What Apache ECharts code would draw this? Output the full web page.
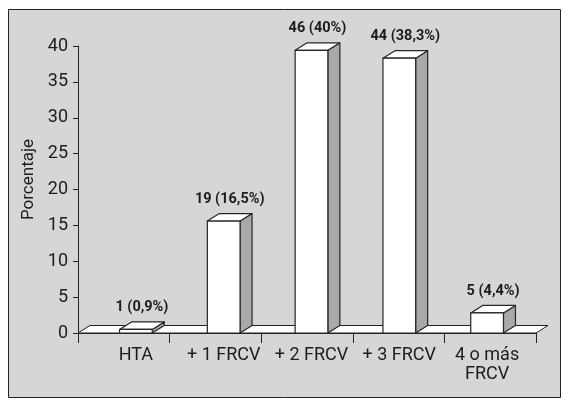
<!DOCTYPE html>
<html>
<head>
<meta charset="utf-8">
<script src="https://cdn.jsdelivr.net/npm/echarts@6/dist/echarts.min.js"></script>
<style>
  html, body { margin: 0; padding: 0; background: #fff; }
  #chart { width: 568px; height: 413px; }
</style>
</head>
<body>
<div id="chart"></div>
<script>
// ---- data ----
const categories = ['HTA', '+ 1 FRCV', '+ 2 FRCV', '+ 3 FRCV', '4 o más\nFRCV'];
// bar heights as drawn in the picture (percent axis)
const barHeights = [0.5, 15.6, 39.4, 38.3, 2.8];
// label texts
const counts = [1, 19, 46, 44, 5];
const percents = ['0,9', '16,5', '40', '38,3', '4,4'];
const yMin = 0, yMax = 40, yInterval = 5;
const yAxisName = 'Porcentaje';

// ---- style ----
const FONT = 'Roboto, "Liberation Sans", sans-serif';
const INK = '#1c1c1c';
const DX = 12, DY = 7.5, BAR_W = 32.7;

const chart = echarts.init(document.getElementById('chart'), null, { renderer: 'canvas' });

const option = {
  backgroundColor: '#ffffff',
  animation: false,
  graphic: [{
    type: 'rect', z: -100,
    shape: { x: 8.5, y: 9.5, width: 552, height: 388 },
    style: { fill: '#d6d6d6', stroke: '#222', lineWidth: 1 }
  }],
  grid: [
    { left: 78, right: 32, top: 46, bottom: 80 },
    { left: 92, right: 37, top: 46, bottom: 80 }
  ],
  xAxis: [
    {
      gridIndex: 0, type: 'category', data: categories, boundaryGap: true,
      axisLine: { show: true, lineStyle: { color: '#222', width: 1 } },
      axisTick: { show: true, length: 10, lineStyle: { color: '#222' } },
      axisLabel: { show: false }
    },
    {
      gridIndex: 1, type: 'category', data: categories, boundaryGap: true,
      axisLine: { show: false }, axisTick: { show: false },
      axisLabel: {
        interval: 0, margin: 13, fontFamily: FONT, fontSize: 18,
        lineHeight: 19, color: INK
      }
    }
  ],
  yAxis: [
    {
      gridIndex: 0, type: 'value', min: yMin, max: yMax, interval: yInterval,
      name: yAxisName, nameLocation: 'middle', nameGap: 40,
      nameTextStyle: { fontFamily: FONT, fontSize: 17, color: INK, padding: [0, 0, 0, 20] },
      axisLine: { show: true, lineStyle: { color: '#222', width: 1 } },
      axisTick: { show: true, length: 5, lineStyle: { color: '#222' } },
      splitLine: { show: false },
      axisLabel: { margin: 10, fontFamily: FONT, fontSize: 18, color: INK }
    },
    {
      gridIndex: 1, type: 'value', min: yMin, max: yMax, interval: yInterval, show: false,
      splitLine: { show: false }
    }
  ],
  series: [
    {
      type: 'custom', xAxisIndex: 0, yAxisIndex: 0, z: 2,
      data: [[0, 0]],
      renderItem: function (params, api) {
        const cs = params.coordSys;
        const yb = api.coord([0, 0])[1];
        const x0 = cs.x, x1 = cs.x + cs.width;
        return {
          type: 'polygon',
          shape: { points: [[x0, yb], [x0 + DX, yb - DY], [x1 + DX, yb - DY], [x1, yb]] },
          style: { fill: '#ffffff', stroke: '#222', lineWidth: 1 }
        };
      }
    },
    {
      type: 'custom', xAxisIndex: 1, yAxisIndex: 1, z: 3,
      data: barHeights.map((v, i) => [i, v]),
      renderItem: function (params, api) {
        const i = api.value(0);
        const v = api.value(1);
        const base = api.coord([i, 0]);
        const top = api.coord([i, v]);
        const x0 = base[0] - BAR_W / 2, x1 = base[0] + BAR_W / 2;
        const yb = base[1], yt = top[1];
        const st = { stroke: '#262626', lineWidth: 1.2, lineJoin: 'round' };
        return {
          type: 'group',
          children: [
            { type: 'polygon',
              shape: { points: [[x1, yb], [x1 + DX, yb - DY], [x1 + DX, yt - DY], [x1, yt]] },
              style: Object.assign({ fill: '#a9a9a9' }, st) },
            { type: 'polygon',
              shape: { points: [[x0, yt], [x0 + DX, yt - DY], [x1 + DX, yt - DY], [x1, yt]] },
              style: Object.assign({ fill: '#ffffff' }, st) },
            { type: 'rect',
              shape: { x: x0, y: yt, width: BAR_W, height: yb - yt },
              style: Object.assign({ fill: '#ffffff' }, st) },
            { type: 'text',
              style: {
                x: base[0] + 6, y: yt - 22,
                text: counts[params.dataIndex] + ' (' + percents[params.dataIndex] + '%)',
                textAlign: 'center', textVerticalAlign: 'middle',
                fontFamily: FONT, fontSize: 14.5, fontWeight: 'bold', fill: INK
              } }
          ]
        };
      }
    }
  ]
};
chart.setOption(option);
</script>
</body>
</html>
